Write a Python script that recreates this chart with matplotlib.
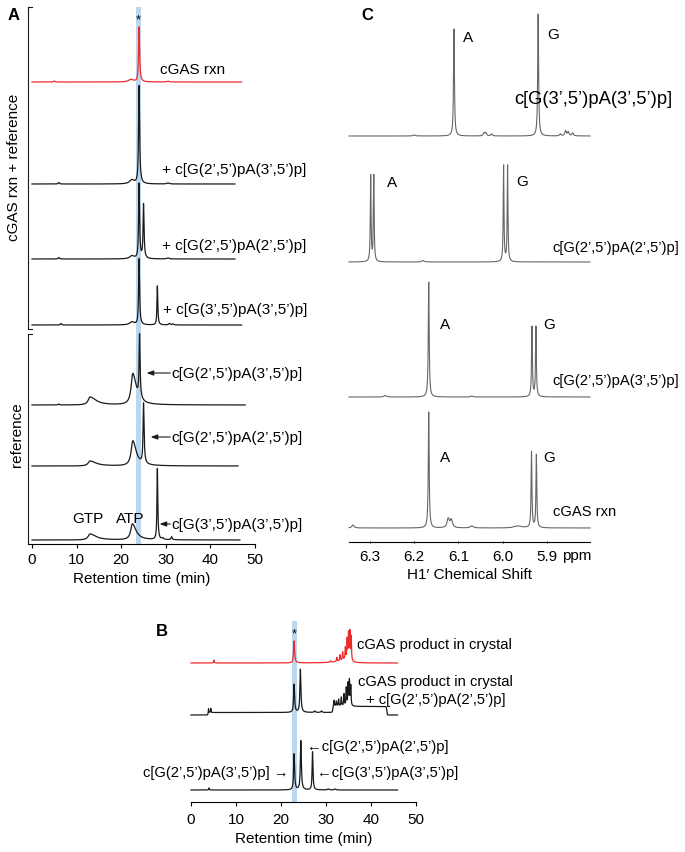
import numpy as np
import matplotlib
matplotlib.use('Agg')
import matplotlib.pyplot as plt

plt.rcParams['font.family'] = ['Liberation Sans', 'DejaVu Sans']

# ---------------- data ----------------
# panel A: HPLC traces, peaks as (time min, height, left hwhm, right hwhm)
a_names = ['cGAS rxn', '+ c[G(2’,5’)pA(3’,5’)p]', '+ c[G(2’,5’)pA(2’,5’)p]',
           '+ c[G(3’,5’)pA(3’,5’)p]', 'c[G(2’,5’)pA(3’,5’)p]',
           'c[G(2’,5’)pA(2’,5’)p]', 'c[G(3’,5’)pA(3’,5’)p]']
a_end = [47.0, 45.5, 45.5, 47.0, 47.8, 46.2, 46.6]
a_peaks = [
    [(24.0, 55, 0.13, 0.15), (22.2, 2.5, 0.6, 0.6), (5.0, 1, 0.2, 0.2), (30.5, 0.8, 0.3, 0.3)],
    [(24.0, 98, 0.13, 0.15), (22.4, 4, 0.6, 0.6), (6.0, 1.5, 0.15, 0.15), (30.5, 1, 0.3, 0.3)],
    [(24.0, 75, 0.12, 0.14), (25.0, 54, 0.12, 0.14), (22.4, 3, 0.6, 0.6),
     (6.0, 1.5, 0.15, 0.15), (30.5, 1, 0.3, 0.3)],
    [(24.0, 66, 0.12, 0.14), (28.1, 39, 0.1, 0.12), (22.4, 3, 0.6, 0.6),
     (6.5, 1.5, 0.15, 0.15), (30.8, 1.5, 0.2, 0.2), (31.6, 1, 0.2, 0.2)],
    [(24.1, 63, 0.12, 0.15), (22.6, 31, 0.45, 0.9), (13.0, 8, 0.5, 1.6), (6.0, 1, 0.15, 0.15)],
    [(25.0, 60, 0.12, 0.15), (22.6, 25, 0.45, 0.9), (13.0, 5, 0.5, 1.6)],
    [(28.1, 71, 0.1, 0.12), (22.5, 16, 0.45, 1.0), (13.0, 6, 0.5, 1.6),
     (29.3, 1.5, 0.2, 0.2), (31.3, 3, 0.15, 0.15)],
]
a_arrow_tip = [25.7, 26.6, 28.6]

# panel C: NMR, peaks as (ppm, height, hwhm)
c_names = ['c[G(3’,5’)pA(3’,5’)p]', 'c[G(2’,5’)pA(2’,5’)p]', 'c[G(2’,5’)pA(3’,5’)p]', 'cGAS rxn']
c_peaks = [
    [(6.110, 107, 0.0012), (5.920, 122, 0.0012), (6.042, 3, 0.002), (6.038, 3, 0.002),
     (6.025, 2, 0.002), (6.200, 1, 0.003), (5.870, 2, 0.002), (5.858, 5, 0.002),
     (5.852, 4, 0.002), (5.842, 3, 0.002)],
    [(6.298, 86, 0.0010), (6.291, 86, 0.0010), (5.998, 96, 0.0010), (5.989, 96, 0.0010),
     (6.180, 1.5, 0.003)],
    [(6.167, 115, 0.0012), (5.934, 70, 0.0011), (5.925, 70, 0.0011), (6.265, 1.5, 0.003),
     (6.070, 1, 0.003)],
    [(6.167, 116, 0.0012), (6.123, 9, 0.003), (6.116, 8, 0.003), (5.935, 76, 0.0011),
     (5.924, 73, 0.0011), (6.338, 3, 0.003), (6.070, 2, 0.004), (5.965, 2, 0.01)],
]
c_ticks = [6.3, 6.2, 6.1, 6.0, 5.9]

# panel B: HPLC of crystal product
b_end = [45.9, 45.9, 45.9]
b_peaks = [
    [(22.9, 22, 0.12, 0.14), (5.1, 3, 0.08, 0.08), (31.0, 1.5, 0.1, 0.1), (32.4, 4, 0.08, 0.08),
     (33.1, 6, 0.08, 0.08), (33.7, 8, 0.08, 0.08), (34.3, 12, 0.08, 0.08), (34.7, 20, 0.08, 0.08),
     (35.0, 26, 0.08, 0.08), (35.3, 28, 0.08, 0.08), (35.6, 24, 0.08, 0.08), (34.5, 3, 2.0, 1.0)],
    [(22.9, 28, 0.12, 0.14), (24.3, 43, 0.12, 0.14), (27.5, 1.5, 0.15, 0.15), (29.0, 1.5, 0.15, 0.15),
     (3.9, 4, 0.05, 0.05), (4.4, 4, 0.05, 0.05), (31.8, 6, 0.08, 0.08), (32.3, 5, 0.08, 0.08),
     (32.8, 7, 0.08, 0.08), (33.4, 9, 0.08, 0.08), (34.0, 12, 0.08, 0.08), (34.5, 18, 0.08, 0.08),
     (34.9, 22, 0.08, 0.08), (35.2, 25, 0.08, 0.08), (35.5, 20, 0.08, 0.08)],
    [(22.9, 36, 0.12, 0.14), (24.4, 49, 0.12, 0.14), (27.0, 38, 0.1, 0.12), (4.0, 2, 0.08, 0.08),
     (30.5, 1, 0.2, 0.2), (32.0, 1, 0.2, 0.2)],
]
# baseline steps (start, end, height)
b_steps = [[], [(3.8, 43.5, 2.5), (31.5, 43.5, 6)], []]

# ---------------- layout ----------------
W, H = 685, 853
RED = '#ee2b2b'
BLK = '#1a1a1a'
GRY = '#666666'
BAND = '#bcd6ec'
FS = 11

fig = plt.figure(figsize=(W / 100, H / 100), dpi=100)


def px_axes(l, t, r, b):
    ax = fig.add_axes([l / W, 1 - b / H, (r - l) / W, (b - t) / H])
    for s in ['top', 'right', 'left']:
        ax.spines[s].set_visible(False)
    ax.set_yticks([])
    ax.set_ylim(0, b - t)
    ax.patch.set_alpha(0)
    ax.spines['bottom'].set_linewidth(0.8)
    return ax


def lorentz(t, peaks):
    y = np.zeros_like(t)
    for p, h, wl, wr in peaks:
        w = np.where(t < p, wl, wr)
        y += h / (1 + ((t - p) / w) ** 2)
    return y


# ---- A ----
axA = px_axes(28, 8, 255, 545)
axA.set_xlim(-0.9, 50)
axA.set_xticks(range(0, 51, 10))
axA.tick_params(axis='x', length=3, width=0.8, labelsize=FS, pad=3)
axA.set_xlabel('Retention time (min)', fontsize=FS, labelpad=3)
axA.axvspan(23.3, 24.4, color=BAND, lw=0, zorder=0)
a_base = [83, 185, 260, 326, 406, 467, 541]
for i in range(7):
    t = np.linspace(0, a_end[i], 6000)
    y = 545 - a_base[i] + lorentz(t, a_peaks[i])
    axA.plot(t, y, color=RED if i == 0 else BLK, lw=0.9, clip_on=False)
axA.text(23.9, 525, '*', ha='center', va='center', fontsize=9)
a_lab = [(28.7, 475), (29.1, 375), (29.1, 299), (29.3, 235)]
for i, (x, y) in enumerate(a_lab):
    axA.text(x, y, a_names[i], fontsize=FS, va='center')
for k, y in enumerate([171, 107, 20]):
    axA.annotate('', xy=(a_arrow_tip[k], y), xytext=(31.0, y),
                 arrowprops=dict(arrowstyle='-|>,head_length=0.4,head_width=0.15',
                                 lw=0.8, color=BLK, shrinkA=0, shrinkB=0))
    axA.text(31.2, y, a_names[4 + k], fontsize=FS, va='center')
axA.text(12.6, 26, 'GTP', fontsize=FS, ha='center', va='center')
axA.text(22.1, 26, 'ATP', fontsize=FS, ha='center', va='center')
# brackets on the left
for y0, y1, top_only in [(537, 215, False), (210, 0, True)]:
    axA.plot([-0.9, -0.9], [y0, y1], color=BLK, lw=0.8, clip_on=False)
    axA.plot([-0.9, 0.0], [y0, y0], color=BLK, lw=0.8, clip_on=False)
    if not top_only:
        axA.plot([-0.9, 0.0], [y1, y1], color=BLK, lw=0.8, clip_on=False)
fig.text(14 / W, 1 - 167 / H, 'cGAS rxn + reference', rotation=90, fontsize=FS,
         ha='center', va='center')
fig.text(17 / W, 1 - 435 / H, 'reference', rotation=90, fontsize=FS,
         ha='center', va='center')

# ---- C ----
axC = px_axes(349, 5, 590, 543)
axC.set_xlim(6.347, 5.803)
axC.set_xticks(c_ticks)
axC.set_xticklabels([f'{v:.1f}' for v in c_ticks])
axC.tick_params(axis='x', length=2, width=0.8, direction='inout', labelsize=FS, pad=4)
axC.set_xlabel('H1′ Chemical Shift', fontsize=FS, labelpad=3)
axC.text(5.866, -13, 'ppm', fontsize=FS, va='center', ha='left')
c_base = [137, 263, 398, 529]
ppm = np.linspace(5.803, 6.347, 8000)
for i in range(4):
    pk = [(p, h, w, w) for p, h, w in c_peaks[i]]
    axC.plot(ppm, 543 - c_base[i] + lorentz(ppm, pk), color=GRY, lw=0.8, clip_on=False)
c_lab = [(5.973, 443, 13.2), (5.887, 295, 10.6), (5.887, 162, 10.6), (5.887, 31, 10.6)]
for i, (x, y, fs) in enumerate(c_lab):
    axC.text(x, y, c_names[i], fontsize=fs, va='center', ha='left')
c_letters = [(6.079, 505, 5.886, 508), (6.250, 360, 5.956, 361),
             (6.131, 218, 5.895, 218), (6.131, 85, 5.896, 85)]
for xa, ya, xg, yg in c_letters:
    axC.text(xa, ya, 'A', fontsize=FS, ha='center', va='center')
    axC.text(xg, yg, 'G', fontsize=FS, ha='center', va='center')

# ---- B ----
axB = px_axes(191, 622, 416, 803)
axB.set_xlim(0, 50)
axB.set_xticks(range(0, 51, 10))
axB.tick_params(axis='x', length=3, width=0.8, labelsize=FS, pad=4)
axB.set_xlabel('Retention time (min)', fontsize=FS, labelpad=4)
axB.axvspan(22.4, 23.5, color=BAND, lw=0, zorder=0)
b_base = [664, 716, 791]
for i in range(3):
    t = np.linspace(0, b_end[i], 6000)
    y = 803 - b_base[i] + lorentz(t, b_peaks[i])
    for s, e, h in b_steps[i]:
        y += h * (1 / (1 + np.exp(-(t - s) / 0.05)) - 1 / (1 + np.exp(-(t - e) / 0.05)))
    axB.plot(t, y, color=RED if i == 0 else BLK, lw=0.9, clip_on=False)
axB.text(22.9, 169, '*', ha='center', va='center', fontsize=9)
FB = 10.6
axB.text(36.9, 158, 'cGAS product in crystal', fontsize=FB, va='center')
axB.text(54.4, 121, 'cGAS product in crystal', fontsize=FB, va='center', ha='center')
axB.text(54.4, 103, '+ c[G(2’,5’)pA(2’,5’)p]', fontsize=FB, va='center', ha='center')
axB.text(21.6, 30, 'c[G(2’,5’)pA(3’,5’)p] →', fontsize=FB, va='center', ha='right')
axB.text(25.8, 56, '←c[G(2’,5’)pA(2’,5’)p]', fontsize=FB, va='center', ha='left')
axB.text(28.0, 30, '←c[G(3’,5’)pA(3’,5’)p]', fontsize=FB, va='center', ha='left')

# panel letters
fig.text(14 / W, 1 - 16 / H, 'A', fontsize=12, fontweight='bold', ha='center', va='center')
fig.text(367 / W, 1 - 16 / H, 'C', fontsize=12, fontweight='bold', ha='center', va='center')
fig.text(162 / W, 1 - 632 / H, 'B', fontsize=12, fontweight='bold', ha='center', va='center')

fig.savefig('out.png', dpi=100)
